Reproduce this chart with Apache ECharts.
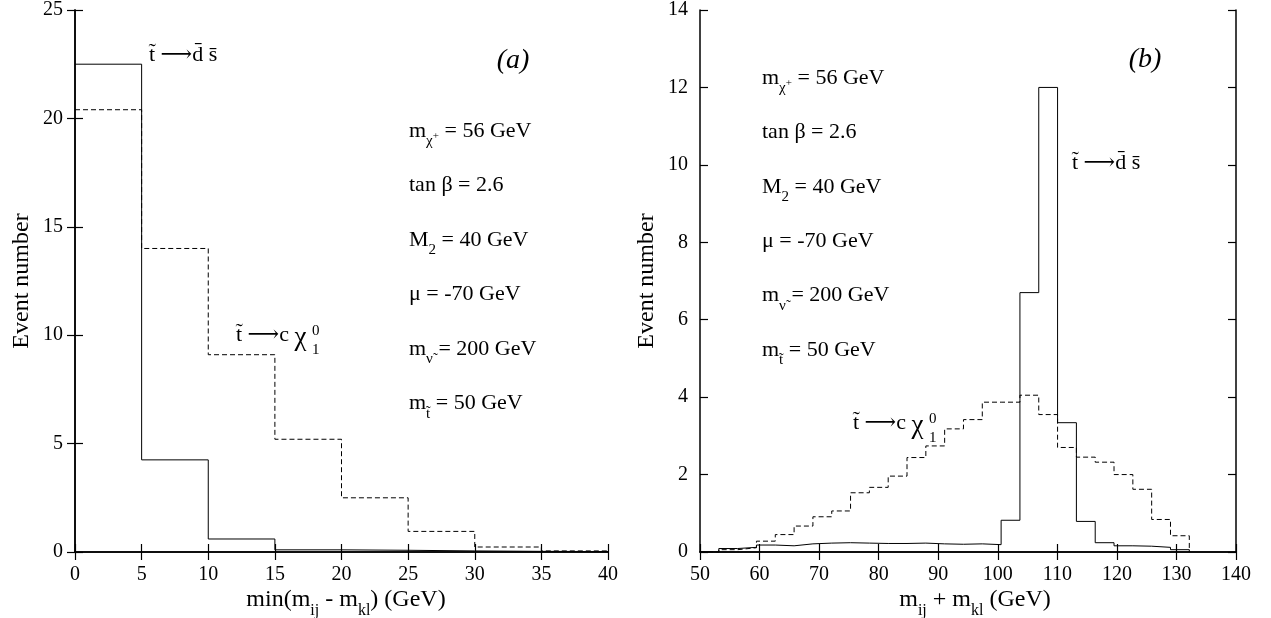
<!DOCTYPE html>
<html>
<head>
<meta charset="utf-8">
<script src="https://cdn.jsdelivr.net/npm/echarts@6/dist/echarts.min.js"></script>
<style>
  html, body { margin: 0; padding: 0; background: #fff; }
  #chart { width: 1271px; height: 618px; }
</style>
</head>
<body>
<div id="chart"></div>
<script>
// (a) min(mij - mkl): bins of 5 GeV from 0 to 40
var leftEdges = [0, 5, 10, 15, 20, 25, 30, 35, 40];
var leftSolid = [22.5, 4.25, 0.6, 0.1, 0.08, 0.05, 0.03, 0.02];   // stop -> d s
var leftDashed = [20.4, 14.0, 9.1, 5.2, 2.5, 0.95, 0.23, 0.05];  // stop -> c chi

// (b) mij + mkl: bins from 50 to ~132 GeV
var rightEdges = [50, 53.16, 56.32, 59.48, 62.64, 65.8, 68.96, 72.12, 75.28, 78.44, 81.6,
                  84.76, 87.92, 91.08, 94.24, 97.4, 100.56, 103.72, 106.88, 110.04, 113.2,
                  116.36, 119.52, 122.68, 125.84, 129, 132.16];
var rightSolid = [0, 0.09, 0.12, 0.18, 0.16, 0.21, 0.23, 0.24, 0.23, 0.22, 0.22, 0.23, 0.21,
                  0.2, 0.21, 0.19, 0.82, 6.7, 12.0, 3.34, 0.79, 0.24, 0.16, 0.15, 0.12, 0.06];
var rightDashed = [0, 0.06, 0.11, 0.28, 0.45, 0.67, 0.91, 1.06, 1.53, 1.67, 1.96, 2.44, 2.74,
                   3.18, 3.42, 3.87, 3.87, 4.05, 3.55, 2.70, 2.45, 2.32, 2.0, 1.62, 0.84, 0.42];

var FONT = 'Liberation Serif, DejaVu Serif, serif';

// histogram -> step points (left edge, value) + closing point
function histPoints(edges, vals) {
    var pts = [];
    for (var i = 0; i < vals.length; i++) {
        pts.push([edges[i], vals[i]]);
    }
    pts.push([edges[vals.length], 0]);
    return pts;
}

function histSeries(edges, vals, dashed, xi, yi) {
    return {
        type: 'line',
        xAxisIndex: xi,
        yAxisIndex: yi,
        step: 'end',
        symbol: 'none',
        silent: true,
        animation: false,
        data: histPoints(edges, vals),
        lineStyle: {
            color: '#000',
            width: 1,
            type: dashed ? [5, 3] : 'solid'
        },
        z: 3
    };
}

var axisLineStyle = { show: true, lineStyle: { color: '#000', width: 1.5 } };
var tickStyle = { show: true, inside: true, length: 8, lineStyle: { color: '#000', width: 1.2 } };
var labelStyle = { color: '#000', fontFamily: FONT, fontSize: 20 };

function xAx(grid, min, max, interval, pos, showLabel) {
    return {
        type: 'value', gridIndex: grid, min: min, max: max, interval: interval, position: pos,
        axisLine: axisLineStyle, axisTick: tickStyle, splitLine: { show: false },
        axisLabel: showLabel ? Object.assign({ margin: 13 }, labelStyle) : { show: false }
    };
}
function yAx(grid, min, max, interval, pos, showLabel) {
    return {
        type: 'value', gridIndex: grid, min: min, max: max, interval: interval, position: pos,
        axisLine: axisLineStyle, axisTick: tickStyle, splitLine: { show: false },
        axisLabel: showLabel ? Object.assign({ margin: 12 }, labelStyle) : { show: false }
    };
}

// rich text styles for sub/superscripts
var rich = {
    n: { fontFamily: FONT, fontSize: 22, lineHeight: 26, verticalAlign: 'top', fill: '#000' },
    g: { fontFamily: FONT, fontSize: 27, lineHeight: 26, verticalAlign: 'top', fill: '#000' },
    t: { fontFamily: FONT, fontSize: 24, lineHeight: 28, verticalAlign: 'top', fill: '#000' },
    sub: { fontFamily: FONT, fontSize: 15, lineHeight: 15, padding: [14, 0, 0, 0], verticalAlign: 'top', fill: '#000' },
    subt: { fontFamily: FONT, fontSize: 16, lineHeight: 16, padding: [15, 0, 0, 0], verticalAlign: 'top', fill: '#000' },
    subsup: { fontFamily: FONT, fontSize: 11, lineHeight: 11, padding: [11, 0, 0, 0], verticalAlign: 'top', fill: '#000' }
};

function txt(x, y, s, extra) {
    var st = { text: s, rich: rich, fill: '#000', fontFamily: FONT, fontSize: 22,
               align: 'left', verticalAlign: 'middle' };
    if (extra) Object.assign(st, extra);
    return { type: 'text', x: x, y: y, style: st, z: 10 };
}
function small(x, y, s) {
    return { type: 'text', x: x, y: y, z: 10,
             style: { text: s, fill: '#000', fontFamily: FONT, fontSize: 15, align: 'left', verticalAlign: 'middle' } };
}

function params(x, y0, dy) {
    return [
        txt(x, y0, '{n|m}{sub|χ}{subsup|+}{n| = 56 GeV}'),
        txt(x, y0 + dy, '{n|tan β = 2.6}'),
        txt(x, y0 + 2 * dy, '{n|M}{sub|2}{n| = 40 GeV}'),
        txt(x, y0 + 3 * dy, '{n|μ = -70 GeV}'),
        txt(x, y0 + 4 * dy, '{n|m}{sub|ν̃}{n| = 200 GeV}'),
        txt(x, y0 + 5 * dy, '{n|m}{sub|t̃}{n| = 50 GeV}')
    ];
}

var graphics = []
    .concat(params(409, 133, 54.5))
    .concat(params(762, 80, 54.4))
    .concat([
        txt(149, 57, '{n|t̃ ⟶d̄ s̄}'),
        txt(1072, 165, '{n|t̃ ⟶d̄ s̄}'),
        txt(236, 337, '{n|t̃ ⟶c }{g|χ}'),
        txt(853, 425, '{n|t̃ ⟶c }{g|χ}'),
        small(312, 350, '1'), small(312, 331, '0'),
        small(929, 438, '1'), small(929, 419, '0'),
        { type: 'text', x: 513, y: 61, z: 10, style: { text: '(a)', fill: '#000', fontFamily: FONT, fontSize: 28, fontStyle: 'italic', align: 'center', verticalAlign: 'middle' } },
        { type: 'text', x: 1145, y: 60, z: 10, style: { text: '(b)', fill: '#000', fontFamily: FONT, fontSize: 28, fontStyle: 'italic', align: 'center', verticalAlign: 'middle' } },
        { type: 'text', x: 22, y: 281, rotation: Math.PI / 2, z: 10, style: { text: 'Event number', fill: '#000', fontFamily: FONT, fontSize: 24, align: 'center', verticalAlign: 'middle' } },
        { type: 'text', x: 647, y: 281, rotation: Math.PI / 2, z: 10, style: { text: 'Event number', fill: '#000', fontFamily: FONT, fontSize: 24, align: 'center', verticalAlign: 'middle' } },
        txt(346, 602, '{t|min(m}{subt|ij}{t| - m}{subt|kl}{t|) (GeV)}', { align: 'center' }),
        txt(975, 602, '{t|m}{subt|ij}{t| + m}{subt|kl}{t| (GeV)}', { align: 'center' })
    ]);

var chart = echarts.init(document.getElementById('chart'));
var option = {
    backgroundColor: '#fff',
    animation: false,
    grid: [
        { left: 75, right: 663, top: 10, bottom: 66 },
        { left: 700, right: 35, top: 10, bottom: 66 }
    ],
    xAxis: [
        xAx(0, 0, 40, 5, 'bottom', true),
        xAx(0, 0, 40, 5, 'top', false),
        xAx(1, 50, 140, 10, 'bottom', true),
        xAx(1, 50, 140, 10, 'top', false)
    ],
    yAxis: [
        yAx(0, 0, 25, 5, 'left', true),
        yAx(0, 0, 25, 5, 'right', false),
        yAx(1, 0, 14, 2, 'left', true),
        yAx(1, 0, 14, 2, 'right', false)
    ],
    series: [
        histSeries(leftEdges, leftSolid, false, 0, 0),
        histSeries(leftEdges, leftDashed, true, 0, 0),
        histSeries(rightEdges, rightSolid, false, 2, 2),
        histSeries(rightEdges, rightDashed, true, 2, 2)
    ],
    graphic: graphics
};
chart.setOption(option);
window.onresize = chart.resize;
</script>
</body>
</html>
